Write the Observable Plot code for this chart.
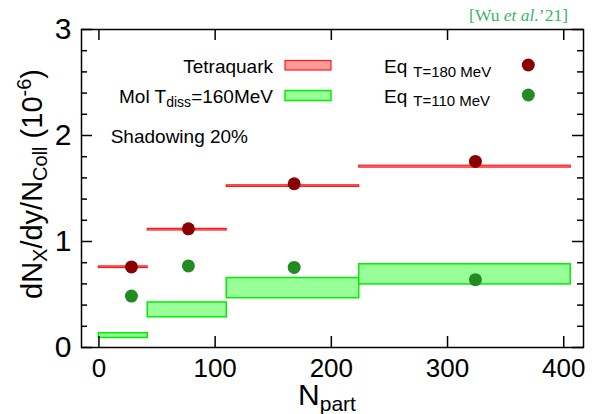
<!DOCTYPE html>
<html>
<head>
<meta charset="utf-8">
<script src="https://cdn.jsdelivr.net/npm/d3@7"></script>
<script src="https://cdn.jsdelivr.net/npm/@observablehq/plot@0.6"></script>
<style>
  html, body { margin: 0; padding: 0; background: #fff; }
  #chart svg { display: block; }
</style>
</head>
<body>
<div id="chart"></div>
<script>
// ---- data ----
const binLo = [0, 42, 110, 224];
const binHi = [42, 110, 224, 406];
const tetraLo = [0.750, 1.104, 1.515, 1.697];
const tetraHi = [0.765, 1.119, 1.530, 1.715];
const molLo = [0.090, 0.285, 0.465, 0.595];
const molHi = [0.135, 0.425, 0.655, 0.785];
const eqNpart = [28, 77, 168, 324];
const eq180 = [0.760, 1.120, 1.545, 1.755];
const eq110 = [0.485, 0.770, 0.755, 0.640];

const xTicks = [0, 100, 200, 300, 400];
const yMajor = [0, 1, 2, 3];
const yMinor = [0.2, 0.4, 0.6, 0.8, 1.2, 1.4, 1.6, 1.8, 2.2, 2.4, 2.6, 2.8];

const legendLabels = ["Tetraquark", "Mol T", "diss", "=160MeV", "Shadowing 20%", "Eq", "T=180 MeV", "T=110 MeV"];
const citeLabel = ["[Wu ", "et al.", "\u201921]"];

// ---- styles ----
const FONT = "'Liberation Sans', Arial, Helvetica, sans-serif";
const redFill = "#ff9999", redStroke = "#ff1a1a";
const greenFill = "#99ff99", greenStroke = "#00ee00";
const dot180 = "#8b0000", dot110 = "#228b22";

const W = 592, H = 414, ML = 81, MR = 9, MT = 29, MB = 67;
const FW = W - ML - MR, FH = H - MT - MB;

const bins = binLo.map((_, i) => i);
const tickStyle = {stroke: "black", strokeWidth: 1.5};
const xTick = (data, side, len) => Plot.ruleX(data, {...tickStyle,
  insetTop: side === "bottom" ? FH - len : 0, insetBottom: side === "top" ? FH - len : 0});
const yTick = (data, side, len) => Plot.ruleY(data, {...tickStyle,
  insetRight: side === "left" ? FW - len : 0, insetLeft: side === "right" ? FW - len : 0});

const svg = Plot.plot({
  width: W, height: H,
  marginLeft: ML, marginRight: MR, marginTop: MT, marginBottom: MB,
  style: {fontFamily: FONT},
  x: {domain: [-15, 417]},
  y: {domain: [0, 3]},
  marks: [
    Plot.rect(bins, {x1: i => binLo[i], x2: i => binHi[i], y1: i => molLo[i], y2: i => molHi[i],
      fill: greenFill, stroke: greenStroke, strokeWidth: 1.5}),
    Plot.rect(bins, {x1: i => binLo[i], x2: i => binHi[i], y1: i => tetraLo[i], y2: i => tetraHi[i],
      fill: redFill, stroke: redStroke, strokeWidth: 1.2}),
    Plot.dot(bins, {x: i => eqNpart[i], y: i => eq110[i], r: 6.5, fill: dot110}),
    Plot.dot(bins, {x: i => eqNpart[i], y: i => eq180[i], r: 6.5, fill: dot180}),
    xTick(xTicks, "bottom", 11),
    xTick(xTicks, "top", 11),
    yTick(yMajor, "left", 11),
    yTick(yMajor, "right", 11),
    yTick(yMinor, "left", 6),
    yTick(yMinor, "right", 6),
    Plot.axisX(xTicks, {tickSize: 0, tickPadding: 11, fontSize: 26, label: null, tickFormat: d => String(d)}),
    Plot.axisY(yMajor, {tickSize: 0, tickPadding: 10, fontSize: 30, label: null, tickFormat: d => String(d)}),
    Plot.frame({stroke: "black", strokeWidth: 1.5})
  ]
});

const s = d3.select(svg);
const g = s.append("g").attr("font-family", FONT).attr("fill", "black").attr("text-anchor", "start");

// Y axis label
const yl = g.append("text").attr("transform", "translate(42,184) rotate(-90)")
  .attr("text-anchor", "middle").attr("font-size", 29);
yl.append("tspan").text("dN");
yl.append("tspan").attr("font-size", 20).attr("dy", 5).text("X");
yl.append("tspan").attr("dy", -5).text("/dy/N");
yl.append("tspan").attr("font-size", 20).attr("dy", 5).text("Coll");
yl.append("tspan").attr("dy", -5).text(" (10");
yl.append("tspan").attr("font-size", 20).attr("dy", -11).text("-6");
yl.append("tspan").attr("dy", 11).text(")");

// X axis label
const xl = g.append("text").attr("x", 327).attr("y", 405).attr("text-anchor", "middle").attr("font-size", 30);
xl.append("tspan").text("N");
xl.append("tspan").attr("font-size", 21).attr("dy", 6).text("part");

// Legend
g.append("text").attr("x", 273).attr("y", 72.7).attr("text-anchor", "end").attr("font-size", 19).text(legendLabels[0]);
g.append("rect").attr("x", 285).attr("y", 60.5).attr("width", 46).attr("height", 9.5)
  .attr("fill", redFill).attr("stroke", redStroke).attr("stroke-width", 1.2);
const mol = g.append("text").attr("x", 273).attr("y", 103.3).attr("text-anchor", "end").attr("font-size", 19);
mol.append("tspan").text(legendLabels[1]);
mol.append("tspan").attr("font-size", 14).attr("dy", 4).text(legendLabels[2]);
mol.append("tspan").attr("dy", -4).text(legendLabels[3]);
g.append("rect").attr("x", 285).attr("y", 90.5).attr("width", 46).attr("height", 10)
  .attr("fill", greenFill).attr("stroke", greenStroke).attr("stroke-width", 1.5);
g.append("text").attr("x", 110.7).attr("y", 143.3).attr("font-size", 19).text(legendLabels[4]);

const eqA = g.append("text").attr("x", 384).attr("y", 73.3).attr("font-size", 19);
eqA.append("tspan").text(legendLabels[5]);
eqA.append("tspan").attr("font-size", 15).attr("dx", 6).attr("dy", 3.4).text(legendLabels[6]);
g.append("circle").attr("cx", 528.3).attr("cy", 65).attr("r", 6.5).attr("fill", dot180);
const eqB = g.append("text").attr("x", 384).attr("y", 103.3).attr("font-size", 19);
eqB.append("tspan").text(legendLabels[5]);
eqB.append("tspan").attr("font-size", 15).attr("dx", 6).attr("dy", 2.4).text(legendLabels[7]);
g.append("circle").attr("cx", 528.3).attr("cy", 95).attr("r", 6.5).attr("fill", dot110);

// Citation
const cite = g.append("text").attr("x", 568).attr("y", 20.5).attr("text-anchor", "end")
  .attr("font-family", "'Liberation Serif', 'DejaVu Serif', serif").attr("font-size", 17.5).attr("fill", "#3cb371");
cite.append("tspan").text(citeLabel[0]);
cite.append("tspan").attr("font-style", "italic").text(citeLabel[1]);
cite.append("tspan").text(citeLabel[2]);

document.getElementById("chart").appendChild(svg);
</script>
</body>
</html>
